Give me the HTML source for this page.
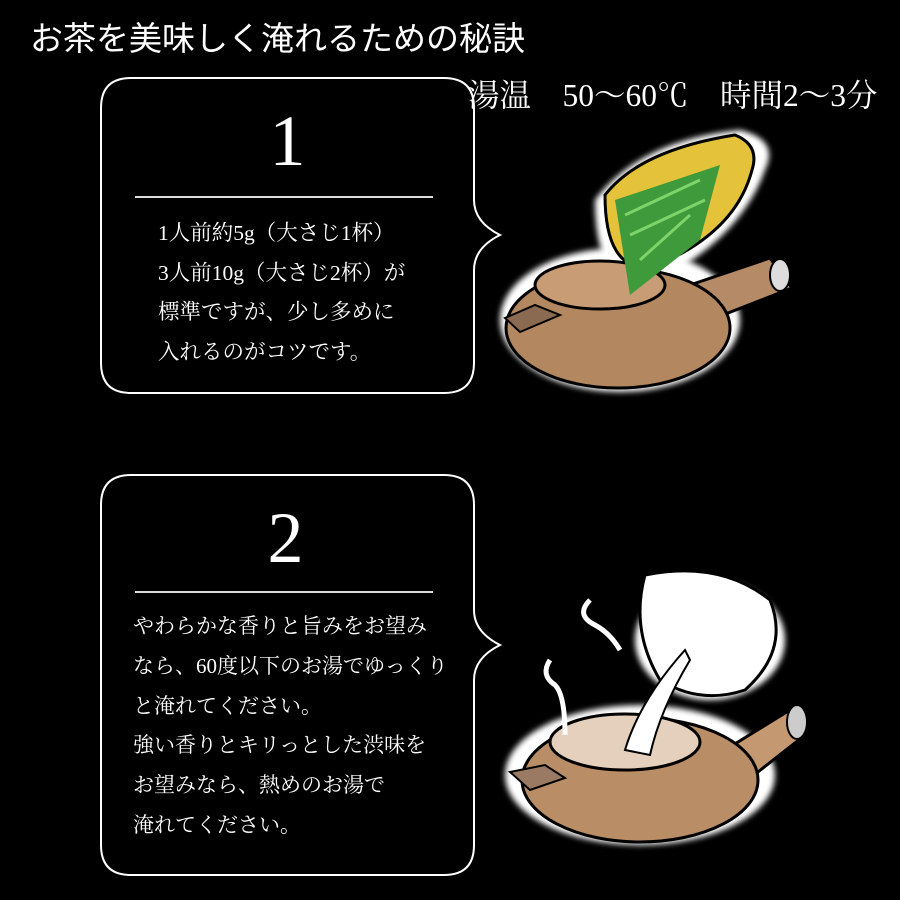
<!DOCTYPE html>
<html><head><meta charset="utf-8"><style>
body{margin:0;background:#000;width:900px;height:900px;overflow:hidden;position:relative;font-family:"Liberation Serif","Noto Serif CJK SC","Noto Sans CJK JP",serif;color:#fff}
.t{position:absolute;white-space:nowrap}
</style></head><body>
<svg width="900" height="900" style="position:absolute;left:0;top:0">
<defs><filter id="g"><feGaussianBlur stdDeviation="3"/></filter></defs>
<path d="M131,78 H444 Q474,78 474,108 V200 Q474,222 500,235 Q474,248 474,270 V363 Q474,393 444,393 H131 Q101,393 101,363 V108 Q101,78 131,78 Z" fill="none" stroke="#fff" stroke-width="2"/>
<line x1="135" y1="197" x2="433" y2="197" stroke="#ddd" stroke-width="2"/>
<path d="M131,475 H444 Q474,475 474,505 V610 Q474,632 500,645 Q474,658 474,680 V845 Q474,875 444,875 H131 Q101,875 101,845 V505 Q101,475 131,475 Z" fill="none" stroke="#fff" stroke-width="2"/>
<line x1="135" y1="592" x2="433" y2="592" stroke="#ddd" stroke-width="2"/>
<g>
<ellipse cx="620" cy="320" rx="120" ry="72" fill="#fff" filter="url(#g)"/>
<path d="M595,200 Q640,140 740,130 Q780,140 765,170 Q740,240 650,285 Q595,290 595,200Z" fill="#fff" filter="url(#g)"/>
<path d="M690,285 L770,258 L792,288 L705,322Z" fill="#b58a67" stroke="#000" stroke-width="3"/>
<ellipse cx="780" cy="275" rx="10" ry="16" fill="#ddd" stroke="#000" stroke-width="2"/>
<ellipse cx="618" cy="328" rx="112" ry="60" fill="#b3875f" stroke="#000" stroke-width="3"/>
<ellipse cx="600" cy="285" rx="65" ry="24" fill="#c89d76" stroke="#000" stroke-width="3"/>
<path d="M505,318 L535,305 L560,315 L520,332Z" fill="#8a6a50" stroke="#000" stroke-width="2"/>
<path d="M605,195 Q640,150 735,135 Q760,145 752,170 Q735,235 650,268 Q605,270 605,195Z" fill="#e4c33a" stroke="#000" stroke-width="3"/>
<path d="M615,200 L720,165 L700,240 L630,295Z" fill="#3e9a3a"/>
<path d="M625,215 L700,180 M630,235 L705,200 M640,260 L690,215" stroke="#7ed36a" stroke-width="3"/>
</g>
<g>
<ellipse cx="640" cy="775" rx="135" ry="70" fill="#fff" filter="url(#g)"/>
<ellipse cx="710" cy="640" rx="75" ry="60" fill="#fff" filter="url(#g)"/>
<path d="M725,750 L790,710 L805,735 L735,790Z" fill="#c49870" stroke="#000" stroke-width="3"/>
<ellipse cx="797" cy="722" rx="10" ry="17" fill="#ccc" stroke="#000" stroke-width="2"/>
<ellipse cx="640" cy="780" rx="118" ry="62" fill="#b98d65" stroke="#000" stroke-width="3"/>
<ellipse cx="625" cy="742" rx="75" ry="28" fill="#e4d0bc" stroke="#000" stroke-width="3"/>
<path d="M510,772 L545,765 L565,778 L530,790Z" fill="#9a7a62" stroke="#000" stroke-width="2"/>
<path d="M645,575 Q720,560 770,600 Q790,650 745,690 Q700,705 660,680 Q630,630 645,575Z" fill="#fff" stroke="#000" stroke-width="3"/>
<path d="M625,750 Q640,700 685,650 L690,660 Q660,710 650,755Z" fill="#fff" stroke="#000" stroke-width="2"/>
<path d="M590,600 q-15,15 5,25 q15,8 25,25" fill="none" stroke="#fff" stroke-width="5"/>
<path d="M550,660 q-10,15 5,25 q10,10 10,50" fill="none" stroke="#fff" stroke-width="5"/>
</g>
</svg>
<div class="t" style="left:30px;top:12px;font-size:33px;font-family:'Liberation Sans','Noto Sans CJK JP',sans-serif">お茶を美味しく淹れるための秘訣</div>
<div class="t" style="left:468px;top:71px;font-size:31.5px">湯温　50～60℃　時間2～3分</div>
<div class="t" style="left:260px;top:100px;font-size:72px;width:55px;text-align:center">1</div>
<div class="t" style="left:158px;top:214px;font-size:21.5px;line-height:39.5px">1人前約5g（大さじ1杯）<br>3人前10g（大さじ2杯）が<br>標準ですが、少し多めに<br>入れるのがコツです。</div>
<div class="t" style="left:258px;top:497px;font-size:72px;width:55px;text-align:center">2</div>
<div class="t" style="left:133px;top:607px;font-size:21px;line-height:39.8px">やわらかな香りと旨みをお望み<br>なら、60度以下のお湯でゆっくり<br>と淹れてください。<br>強い香りとキリっとした渋味を<br>お望みなら、熱めのお湯で<br>淹れてください。</div>
</body></html>
